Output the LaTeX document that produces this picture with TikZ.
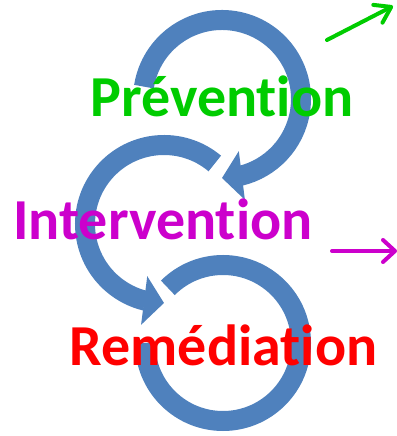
\documentclass[tikz,border=0pt]{standalone}
\usepackage{fontspec}
\setmainfont{Carlito}[Ligatures=NoCommon]
\usetikzlibrary{arrows.meta, bending, positioning}
\definecolor{ringblue}{HTML}{4F81BD}
\definecolor{prevgreen}{HTML}{00CC00}
\definecolor{intermag}{HTML}{CC00CC}
\definecolor{remred}{HTML}{FF0000}

\begin{document}
\begin{tikzpicture}[x=1pt, y=1pt,
    ring/.style={draw=ringblue, line width=20pt},
    ringtip/.style={-{Triangle[length=20pt, width=48pt, fill=ringblue]}},
    word/.style={font=\fontsize{58}{60}\selectfont\bfseries, anchor=base, inner sep=0pt},
    trend/.style={line width=4pt, line cap=round}]
    \useasboundingbox (0,0) rectangle (396,436);

    % Centres of the three rings
    \coordinate (ctop) at (222,337);
    \coordinate (cmid) at (164,212);
    \coordinate (cbot) at (223,93);

    % Rings
    \draw[ring, ringtip] (ctop) ++(171:79pt) arc[start angle=171, end angle=-90, radius=79pt];
    \draw[ring, ringtip] (cmid) ++(50:79pt) arc[start angle=50, end angle=270, radius=79pt];
    \draw[ring] (cbot) ++(135:78pt) arc[start angle=135, end angle=-180, radius=78pt];

    % Labels
    \node[word, text=prevgreen] (prev) at (222,319) {Prévention};
    \node[word, text=intermag] (inter) at (163,196) {Intervention};
    \node[word, text=remred] (rem) at (223.5,70) {Remédiation};

    % Side arrows
    \coordinate (gstart) at (327,396);
    \coordinate (gend) at (393,430);
    \draw[trend, prevgreen, -{Straight Barb[length=15pt, width=20pt, round]}] (gstart) -- (gend);
    \coordinate (mstart) at (332,185);
    \coordinate (mend) at (397,185);
    \draw[trend, intermag, -{Straight Barb[length=12pt, width=22pt, round]}] (mstart) -- (mend);
\end{tikzpicture}
\end{document}
